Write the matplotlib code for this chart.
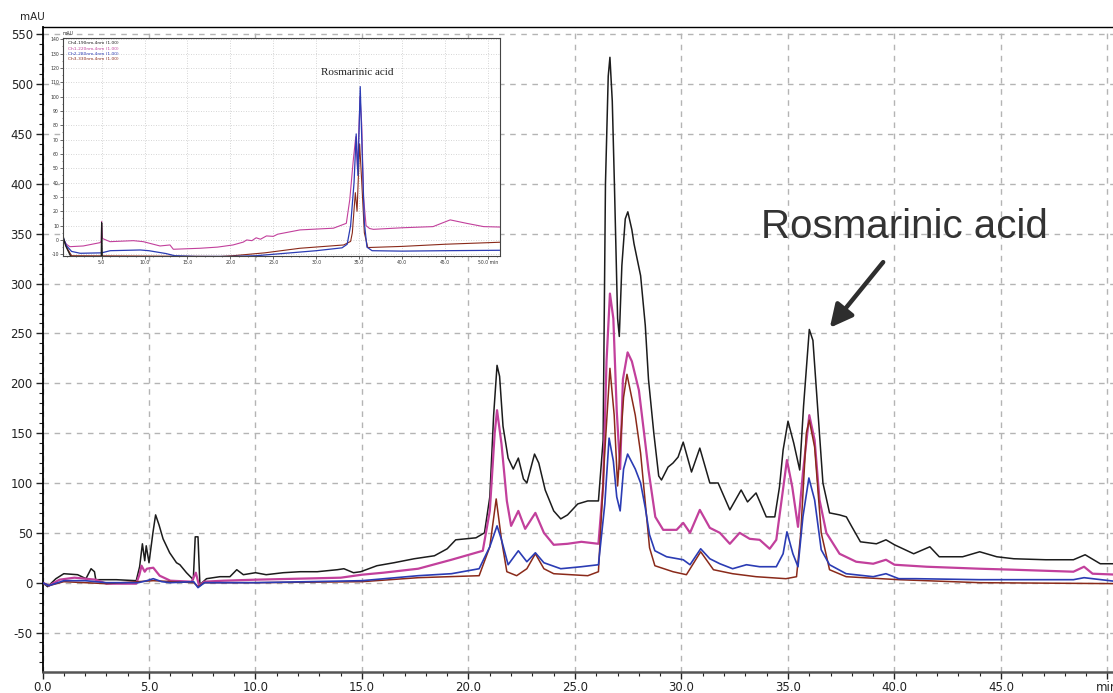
import numpy as np
import matplotlib.pyplot as plt
from matplotlib.ticker import MultipleLocator, FixedLocator

plt.rcParams['axes.unicode_minus'] = False

# ---- main chromatogram traces (time min, mAU) ----
black_t = [0.0, 0.24, 0.63, 1.0, 1.65, 2.04, 2.28, 2.44, 2.5, 3.46, 4.4, 4.56, 4.69, 4.8, 4.87, 5.0,
           5.19, 5.31, 5.47, 5.66, 5.97, 6.29, 6.45, 6.76, 7.08, 7.17, 7.3, 7.39, 7.7, 8.33, 8.8,
           9.12, 9.43, 10.0, 10.5, 11.3, 12.1, 12.9, 13.84, 14.15, 14.6, 14.94, 15.7, 16.5, 17.45,
           18.4, 19.0, 19.4, 20.35, 20.75, 21.0, 21.18, 21.34, 21.46, 21.62, 21.86, 22.1, 22.34,
           22.58, 22.74, 23.1, 23.3, 23.6, 24.0, 24.33, 24.65, 25.13, 25.6, 26.1, 26.32, 26.43,
           26.56, 26.64, 26.75, 26.85, 27.0, 27.08, 27.2, 27.36, 27.48, 27.67, 27.77, 28.08, 28.3,
           28.45, 28.7, 28.93, 29.06, 29.37, 29.6, 29.84, 30.08, 30.47, 30.86, 31.33, 31.72, 32.27,
           32.8, 33.1, 33.5, 33.98, 34.38, 34.6, 34.77, 35.0, 35.27, 35.55, 35.73, 36.0, 36.17,
           36.4, 36.64, 36.95, 37.42, 37.74, 38.0, 38.4, 39.15, 39.6, 40.0, 40.9, 41.66, 42.1,
           43.2, 44.0, 44.8, 45.6, 47.1, 48.4, 48.95, 49.34, 49.66, 50.5]
black_v = [0, -4, 4, 9, 8, 4, 14, 11, 3, 3, 2, 16, 39, 22, 37, 20,
           51, 68, 58, 44, 30, 20, 18, 10, 3, 46, 46, -2, 4, 6, 6,
           13, 8, 10, 8, 10, 11, 11, 13, 14, 10, 11, 17, 20, 24,
           27, 34, 43, 45, 50, 86, 168, 218, 207, 157, 125, 114, 125,
           104, 100, 129, 120, 93, 72, 64, 68, 79, 82, 82, 143, 400,
           508, 527, 483, 400, 265, 247, 318, 365, 372, 354, 340, 308, 258,
           204, 150, 107, 103, 116, 120, 126, 141, 111, 135, 100, 100, 73,
           93, 81, 90, 66, 66, 96, 133, 162, 140, 113, 177, 254, 243,
           173, 100, 70, 68, 66, 56, 41, 39, 43, 38, 29, 36, 26,
           26, 31, 26, 24, 23, 23, 28, 23, 19, 19]

magenta_t = [0.0, 0.3, 0.8, 1.5, 2.5, 3.0, 4.4, 4.55, 4.65, 4.8, 4.9, 5.2, 5.5, 6.0, 7.0, 7.2, 7.35,
             7.6, 8.5, 10.0, 12.0, 14.0, 15.0, 16.0, 17.64, 19.2, 20.67, 21.0, 21.23, 21.34, 21.55,
             21.8, 22.0, 22.34, 22.66, 23.14, 23.54, 24.0, 24.65, 25.3, 26.1, 26.32, 26.48, 26.64,
             26.8, 26.96, 27.12, 27.25, 27.47, 27.67, 28.0, 28.3, 28.45, 28.77, 29.14, 29.77, 30.08,
             30.4, 30.86, 31.33, 31.8, 32.27, 32.73, 33.2, 33.67, 34.14, 34.45, 34.7, 34.95, 35.2,
             35.47, 35.7, 36.0, 36.25, 36.48, 36.8, 37.42, 38.2, 39.0, 39.6, 40.0, 41.5, 44.0, 45.6,
             48.4, 48.9, 49.3, 50.5]
magenta_v = [0, -3, 3, 5, 3, -1, -1, 8, 17, 11, 14, 15, 7, 2, 1, 10, -3,
             1, 2, 3, 4, 5, 8, 10, 14, 23, 32, 72, 150, 173, 139,
             82, 57, 72, 54, 70, 50, 38, 39, 41, 39, 97, 222, 290,
             265, 172, 114, 204, 231, 222, 193, 140, 113, 66, 53, 53, 60,
             50, 73, 55, 50, 39, 50, 44, 43, 34, 43, 83, 123, 96,
             56, 110, 168, 143, 83, 50, 29, 21, 19, 23, 18, 16, 14, 13,
             11, 16, 9, 8]

blue_t = [0.0, 0.3, 1.0, 2.0, 3.0, 4.5, 4.9, 5.2, 5.6, 6.0, 7.1, 7.3, 7.6, 10.0, 15.0, 17.64, 19.2,
          20.5, 21.0, 21.34, 21.55, 21.86, 22.34, 22.74, 23.14, 23.54, 24.33, 25.3, 26.1, 26.4,
          26.6, 26.8, 26.96, 27.12, 27.28, 27.47, 27.83, 28.08, 28.3, 28.5, 28.75, 29.3, 30.08,
          30.4, 30.9, 31.33, 31.8, 32.4, 33.05, 33.67, 34.45, 34.77, 34.95, 35.23, 35.47, 35.7,
          35.98, 36.25, 36.56, 36.95, 37.73, 39.0, 39.6, 40.2, 41.0, 44.0, 48.4, 48.9, 50.5]
blue_v = [0, -3, 2, 2, 0, 0, 2, 4, 1, 0, 1, -5, 0, 0, 2, 7, 9,
          14, 36, 57, 43, 18, 32, 21, 30, 20, 14, 16, 18, 79,
          145, 122, 86, 72, 114, 129, 114, 100, 75, 48, 32, 26, 23,
          18, 34, 24, 19, 14, 18, 16, 16, 29, 51, 29, 16, 66,
          105, 83, 33, 18, 9, 6, 9, 4, 4, 3, 3, 5, 1]

red_t = [0.0, 0.3, 1.0, 3.0, 5.2, 7.1, 7.3, 7.6, 10.0, 15.0, 17.64, 20.5, 21.0, 21.3, 21.55, 21.8,
         22.26, 22.74, 23.14, 23.54, 24.0, 25.6, 26.1, 26.4, 26.64, 26.84, 27.0, 27.28, 27.44,
         27.83, 28.08, 28.3, 28.5, 28.75, 29.6, 30.23, 30.9, 31.5, 32.4, 33.5, 34.9, 35.4, 35.6,
         35.86, 36.0, 36.25, 36.56, 36.95, 37.73, 40.2, 44.0, 50.5]
red_v = [0, -3, 1, -1, 2, 0, -4, 0, 0, 1, 5, 7, 36, 84, 43, 11,
         7, 14, 29, 14, 9, 7, 11, 132, 215, 168, 97, 186, 209,
         168, 130, 80, 35, 17, 11, 8, 31, 13, 9, 6, 4, 6, 50,
         150, 163, 136, 50, 13, 6, 3, 0, -1]

# ---- inset chromatogram ----
in_black_t = [0.5, 0.8, 1.2, 1.6, 4.95, 5.0, 5.08, 51.4]
in_black_v = [3, -4, -9, -14, -14, 12, -14, -14]
in_magenta_t = [0.5, 0.9, 1.3, 2.86, 4.8, 4.95, 5.0, 5.1, 5.97, 8.7, 9.85, 11.8, 12.96, 13.35, 16.46,
                18.5, 20.3, 21.5, 21.9, 22.5, 23.0, 23.5, 24.2, 25.0, 25.5, 28.1, 32.0, 33.5, 33.9,
                34.3, 34.6, 34.8, 35.1, 35.3, 35.5, 35.8, 36.2, 36.65, 40.0, 43.6, 45.6, 47.5,
                49.5, 51.4]
in_magenta_v = [1, -3, -4.7, -4.2, -1.9, -1, 13, 1, -1.2, -0.5, -1.2, -4.2, -3.5, -6.5, -5.8,
                -5, -3.5, -1.5, 0, -0.5, 1.5, 0.5, 2.8, 2.5, 4, 7, 8.2, 11.6, 28,
                55, 72, 50, 100, 80, 30, 10, 8, 7.4, 8.5, 9.3, 14, 11.6,
                9.3, 9]
in_blue_t = [0.5, 0.9, 1.5, 2.5, 5.0, 6.0, 9.5, 10.5, 12.5, 13.5, 16.0, 20.0, 23.0, 26.0, 30.0,
             33.0, 33.6, 34.0, 34.4, 34.65, 34.85, 35.12, 35.35, 35.6, 35.9, 36.5, 40.0, 45.0, 51.4]
in_blue_v = [2, -4, -8, -9.3, -9, -7.5, -7, -7.5, -9.5, -11, -11.5, -11.5, -11, -9.5, -7.5,
             -5.5, -3, 10, 40, 74, 45, 107, 60, 12, -5, -7.5, -7.8, -7.5, -7.2]
in_red_t = [0.5, 1.0, 1.5, 18.8, 20.3, 24.0, 28.1, 33.2, 34.0, 34.2, 34.55, 34.75, 35.05, 35.3,
            35.6, 36.0, 40.0, 45.0, 51.4]
in_red_v = [1, -6, -11, -11.5, -11, -9, -5.8, -3.5, -1, 5, 33, 20, 67, 40,
            5, -5.3, -4.5, -3, -1.6]
in_legend = ['Ch4-190nm,4nm (1.00)', 'Ch1-220nm,4nm (1.00)',
             'Ch2-280nm,4nm (1.00)', 'Ch3-330nm,4nm (1.00)']

x_labels = ['0.0', '5.0', '10.0', '15.0', '20.0', '25.0', '30.0', '35.0', '40.0', '45.0', 'min']
in_x_labels = ['5.0', '10.0', '15.0', '20.0', '25.0', '30.0', '35.0', '40.0', '45.0', '50.0 min']

c_black = '#1c1c1c'
c_mag = '#c2409c'
c_blue = '#2b3cb4'
c_red = '#8a2a1a'

fig = plt.figure(figsize=(11.13, 6.93), dpi=100)
W, H = 1113.0, 693.0

# main axes: left 42.5 px, top 26.7 px, bottom 671.7 px, runs off the right edge
ax = fig.add_axes([42.5 / W, (H - 671.7) / H, (50.5 * 21.3) / W, (671.7 - 26.7) / H])
ax.set_xlim(0, 50.5)
ax.set_ylim(-89.3, 557.7)

ax.plot(black_t, black_v, color=c_black, lw=1.1, zorder=3)
ax.plot(magenta_t, magenta_v, color=c_mag, lw=1.6, zorder=4)
ax.plot(red_t, red_v, color=c_red, lw=1.1, zorder=5)
ax.plot(blue_t, blue_v, color=c_blue, lw=1.2, zorder=6)

ax.xaxis.set_major_locator(FixedLocator(np.arange(0, 51, 5)))
ax.set_xticklabels(x_labels)
ax.xaxis.set_minor_locator(MultipleLocator(1))
ax.yaxis.set_major_locator(MultipleLocator(50))
ax.yaxis.set_minor_locator(MultipleLocator(10))
ax.tick_params(axis='both', which='major', direction='out', length=5, width=1,
               labelsize=8.5, colors='#222', pad=2)
ax.tick_params(axis='both', which='minor', direction='out', length=3, width=0.8, colors='#222')
ax.grid(which='major', color='#b4b4b4', linestyle=(0, (4, 4)), lw=1.0, zorder=0)
ax.spines['right'].set_visible(False)
ax.spines['left'].set_linewidth(1.3)
ax.spines['top'].set_linewidth(1.0)
ax.spines['bottom'].set_linewidth(1.8)
ax.spines['bottom'].set_color('#555')

fig.text(20 / W, 1 - 17 / H, 'mAU', fontsize=7.5, color='#222', va='center', ha='left')

ax.annotate('', xy=(36.88, 253.5), xytext=(39.55, 323.7),
            arrowprops=dict(arrowstyle='-|>', lw=3.2, color='#2e2e2e', mutation_scale=34),
            zorder=8)
ax.text(40.45, 356.8, 'Rosmarinic acid', fontsize=29, family='Liberation Sans',
        color='#333', ha='center', va='center', zorder=8)

# inset
axi = fig.add_axes([63 / W, (H - 256) / H, 437 / W, 218 / H], zorder=10)
axi.set_facecolor('white')
axi.set_xlim(0.5, 51.4)
axi.set_ylim(-11.2, 140.9)
axi.plot(in_magenta_t, in_magenta_v, color=c_mag, lw=0.8)
axi.plot(in_red_t, in_red_v, color=c_red, lw=0.8)
axi.plot(in_blue_t, in_blue_v, color=c_blue, lw=0.9)
axi.plot(in_black_t, in_black_v, color=c_black, lw=0.9)
axi.xaxis.set_major_locator(FixedLocator(np.arange(5, 51, 5)))
axi.set_xticklabels(in_x_labels)
axi.xaxis.set_minor_locator(MultipleLocator(1))
axi.yaxis.set_major_locator(MultipleLocator(10))
axi.yaxis.set_minor_locator(MultipleLocator(5))
axi.tick_params(axis='both', which='major', direction='out', length=2, width=0.5,
                labelsize=3.3, colors='#333', pad=1)
axi.tick_params(axis='both', which='minor', direction='out', length=1, width=0.4, colors='#333')
axi.grid(which='major', color='#c8c8c8', linestyle=(0, (1, 2)), lw=0.6)
for s in axi.spines.values():
    s.set_linewidth(0.8)
    s.set_color('#444')
axi.text(0.0, 1.01, 'mAU', transform=axi.transAxes, fontsize=3.3, color='#333',
         ha='left', va='bottom')
for i, (lab, col) in enumerate(zip(in_legend, [c_black, c_mag, c_blue, c_red])):
    axi.text(0.012, 0.985 - i * 0.024, lab, transform=axi.transAxes, fontsize=3.2,
             color=col, ha='left', va='top')
axi.text(34.75, 117, 'Rosmarinic acid', fontsize=8, family='Liberation Serif',
         color='#222', ha='center', va='center')

fig.savefig('out.png', dpi=100)
